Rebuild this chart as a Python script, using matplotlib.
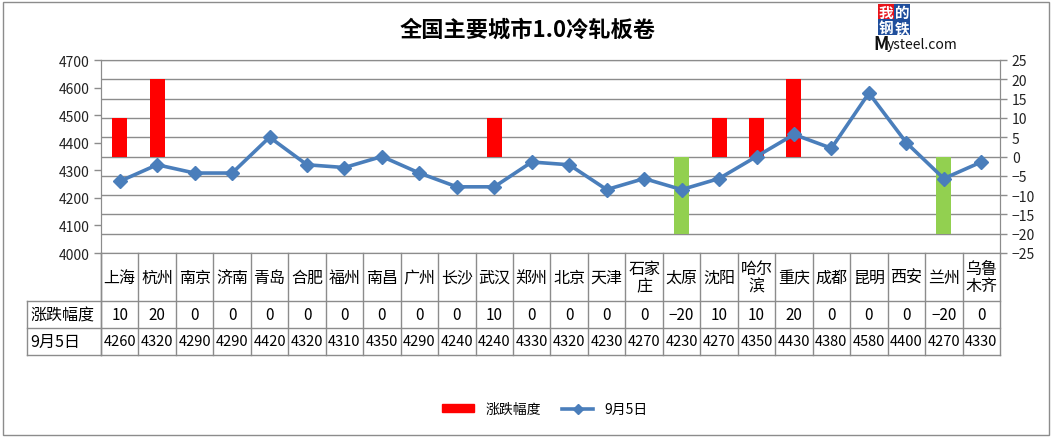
import matplotlib.pyplot as plt
from matplotlib.lines import Line2D
from matplotlib.transforms import blended_transform_factory

plt.rcParams['font.family'] = ['Noto Sans CJK SC', 'DejaVu Sans']

cities = ["上海", "杭州", "南京", "济南", "青岛", "合肥", "福州", "南昌", "广州", "长沙",
          "武汉", "郑州", "北京", "天津", "石家\n庄", "太原", "沈阳", "哈尔\n滨", "重庆", "成都",
          "昆明", "西安", "兰州", "乌鲁\n木齐"]
changes = [10, 20, 0, 0, 0, 0, 0, 0, 0, 0, 10, 0, 0, 0, 0, -20, 10, 10, 20, 0, 0, 0, -20, 0]
prices = [4260, 4320, 4290, 4290, 4420, 4320, 4310, 4350, 4290, 4240, 4240, 4330,
          4320, 4230, 4270, 4230, 4270, 4350, 4430, 4380, 4580, 4400, 4270, 4330]
left_ticks = [4000, 4100, 4200, 4300, 4400, 4500, 4600, 4700]
right_ticks = [-25, -20, -15, -10, -5, 0, 5, 10, 15, 20, 25]

W, H = 1054, 439
GRAY = '#8c8c8c'
BLUE = '#4a7ebb'


def fx(px):
    return px / W


def fy(py):
    return 1 - py / H


fig = plt.figure(figsize=(W / 100, H / 100), dpi=100)
ax = fig.add_axes([fx(101), fy(254), fx(1000) - fx(101), fy(61) - fy(254)])
ax2 = ax.twinx()
ax.set_zorder(2)
ax.patch.set_visible(False)

x = list(range(len(cities)))
colors = ['#ff0000' if c > 0 else '#92d050' for c in changes]
ax2.bar(x, changes, width=0.4, color=colors, label='涨跌幅度', zorder=2)
ax2.set_ylim(-25, 25)
ax2.set_yticks(right_ticks)
ax2.set_yticklabels([str(t).replace('-', '−') for t in right_ticks])
ax2.yaxis.grid(True, color=GRAY, lw=1)
ax2.set_axisbelow(True)

ax.plot(x, prices, color=BLUE, lw=2.6, marker='D', ms=7, label='9月5日', zorder=3)
ax.set_ylim(4000, 4700)
ax.set_yticks(left_ticks)
ax.set_xlim(-0.5, len(cities) - 0.5)
ax.set_xticks([])

for a in (ax, ax2):
    for s in a.spines.values():
        s.set_color(GRAY)
    a.tick_params(axis='y', colors=GRAY, labelcolor='#222222', labelsize=10, length=5, width=1)

# data table under the plot
trans = blended_transform_factory(ax.transData, fig.transFigure)
edges = [i - 0.5 for i in range(len(cities) + 1)]
for e in edges:
    fig.add_artist(Line2D([e, e], [fy(254), fy(356)], transform=trans, color=GRAY, lw=1))
fig.add_artist(Line2D([fx(101), fx(101)], [fy(254), fy(356)], color=GRAY, lw=1))
fig.add_artist(Line2D([fx(27), fx(27)], [fy(302), fy(356)], color=GRAY, lw=1))
for py in (302, 329, 356):
    fig.add_artist(Line2D([fx(27), fx(1000)], [fy(py), fy(py)], color=GRAY, lw=1))

for i in x:
    fig.text(i, fy(278), cities[i], transform=trans, ha='center', va='center',
             fontsize=11.5, linespacing=1.05)
    fig.text(i, fy(315.5), str(changes[i]).replace('-', '−'), transform=trans,
             ha='center', va='center', fontsize=11)
    fig.text(i, fy(342.5), str(prices[i]), transform=trans, ha='center', va='center',
             fontsize=10.5)
fig.text(fx(30), fy(315.5), '涨跌幅度', ha='left', va='center', fontsize=11.5)
fig.text(fx(30), fy(342.5), '9月5日', ha='left', va='center', fontsize=11.5)

fig.text(fx(528), fy(30), '全国主要城市1.0冷轧板卷', ha='center', va='center',
         fontsize=16, fontweight='bold')

# logo
logo = [('我', 886, 13, '#e8141b'), ('的', 902, 13, '#1f4e9c'),
        ('钢', 886, 28, '#1f4e9c'), ('铁', 902, 28, '#1f4e9c')]
for ch, lx, ly, col in logo:
    fig.text(fx(lx), fy(ly), ch, ha='center', va='center', fontsize=10.5, color='white',
             fontweight='bold', bbox=dict(boxstyle='square,pad=0.02', fc=col, ec='none'))
fig.text(fx(873), fy(44), 'M', ha='left', va='center', fontsize=13, color='#111111',
         fontweight='bold')
fig.text(fx(887), fy(45), 'ysteel.com', ha='left', va='center', fontsize=10,
         color='#111111')

handles = [plt.Rectangle((0, 0), 1, 1, color='#ff0000'),
           Line2D([], [], color=BLUE, lw=2.6, marker='D', ms=5)]
fig.legend(handles, ['涨跌幅度', '9月5日'], loc='center', ncol=2, frameon=False,
           bbox_to_anchor=(fx(545), fy(410)), fontsize=10, handlelength=2.3,
           handleheight=0.5, columnspacing=1.5)

fig.add_artist(plt.Rectangle((fx(3), fy(436)), fx(1049) - fx(3), fy(3) - fy(436),
                             fill=False, ec=GRAY, lw=1))

fig.savefig('out.png', dpi=100)
